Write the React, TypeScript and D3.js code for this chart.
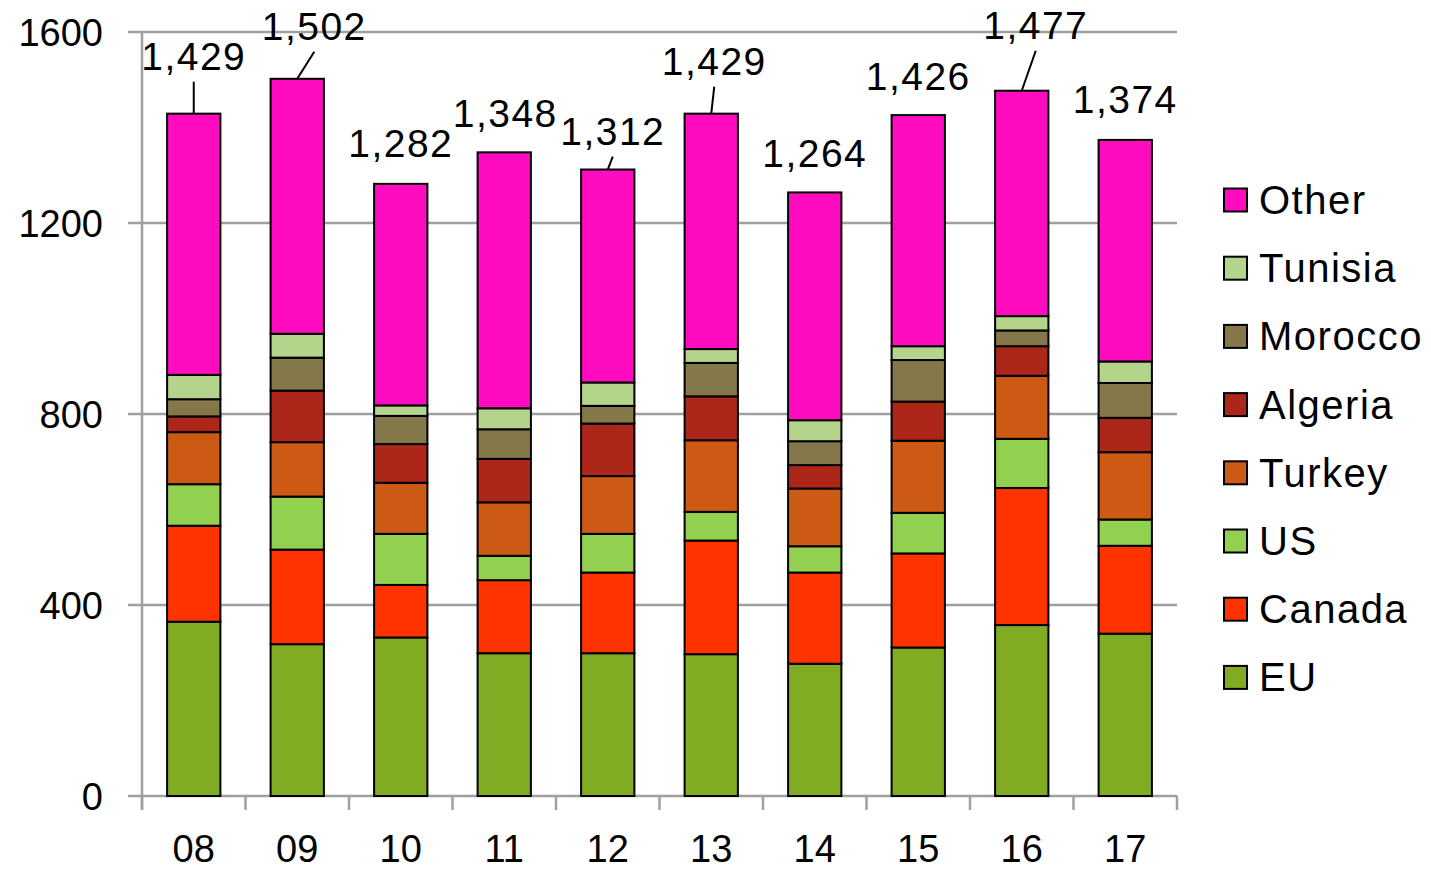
import * as d3 from 'd3';
import React, { useEffect, useRef } from 'react';

// years on x axis
const years = ['08', '09', '10', '11', '12', '13', '14', '15', '16', '17'];
const seriesNames = ['EU', 'Canada', 'US', 'Turkey', 'Algeria', 'Morocco', 'Tunisia', 'Other'];

const eu = [365, 318, 332, 299, 299, 297, 277, 311, 358, 340];
const canada = [201, 198, 110, 153, 169, 238, 191, 197, 287, 184];
const us = [87, 111, 107, 51, 81, 60, 55, 85, 103, 55];
const turkey = [109, 114, 107, 112, 121, 150, 121, 151, 132, 141];
const algeria = [33, 108, 81, 91, 110, 92, 49, 82, 62, 72];
const morocco = [36, 69, 59, 62, 37, 70, 50, 87, 33, 73];
const tunisia = [51, 50, 22, 44, 49, 29, 44, 29, 30, 45];
const other = [547, 534, 464, 536, 446, 493, 477, 484, 472, 464];
const totals = [1429, 1502, 1282, 1348, 1312, 1429, 1264, 1426, 1477, 1374];
const yTicks = [0, 400, 800, 1200, 1600];

const colors = ['#80ab22', '#ff3300', '#92d150', '#cc5a14', '#ac2619', '#84784a', '#b4d38b', '#ff0bc0'];

// where the total labels sit (manually placed in the original)
const labelDx = [0, 17, 0, 1, 5, 3, 0, 0, 14, 0];
const labelRise = [44, 39, 27, 25, 25, 39, 25, 25, 52, 27];
const hasLeader = [true, true, false, false, true, true, false, false, true, false];

const FONT = '"Liberation Sans", Arial, sans-serif';

const App = () => {
    const chartArea = useRef<SVGSVGElement>(null);
    const margin = { top: 32, right: 254, bottom: 73, left: 142 },
        W = 1431, H = 869,
        width = W - margin.left - margin.right,
        height = H - margin.top - margin.bottom;

    useEffect(() => {
        const svg = d3.select(chartArea.current);
        svg.selectAll('*').remove();

        const x = d3.scaleBand().domain(years).range([margin.left, margin.left + width]);
        const y = d3.scaleLinear().domain([0, 1600]).range([margin.top + height, margin.top]);
        const barW = x.bandwidth() * 0.515;

        const table = years.map((yr, i) => ({
            year: yr,
            EU: eu[i], Canada: canada[i], US: us[i], Turkey: turkey[i],
            Algeria: algeria[i], Morocco: morocco[i], Tunisia: tunisia[i], Other: other[i]
        }));
        const stacked = d3.stack<any>().keys(seriesNames)(table);

        // gridlines
        svg.append('g').selectAll('line').data(yTicks).join('line')
            .attr('x1', margin.left - 14).attr('x2', margin.left + width)
            .attr('y1', d => y(d)).attr('y2', d => y(d))
            .attr('stroke', '#a0a0a0').attr('stroke-width', 2.5);

        // y axis line
        svg.append('line')
            .attr('x1', margin.left).attr('x2', margin.left)
            .attr('y1', y(1600)).attr('y2', y(0) + 14)
            .attr('stroke', '#a0a0a0').attr('stroke-width', 2.5);

        // x ticks at band edges
        const edges = years.map(d => x(d) as number).concat([margin.left + width]);
        svg.append('g').selectAll('line').data(edges).join('line')
            .attr('x1', d => d).attr('x2', d => d)
            .attr('y1', y(0)).attr('y2', y(0) + 14)
            .attr('stroke', '#a0a0a0').attr('stroke-width', 2.5);

        svg.append('g').selectAll('text').data(yTicks).join('text')
            .attr('x', 103).attr('y', d => y(d) + 14)
            .attr('text-anchor', 'end')
            .attr('font-family', FONT).attr('font-size', 38)
            .text(d => d);

        svg.append('g').selectAll('text').data(years).join('text')
            .attr('x', d => (x(d) as number) + x.bandwidth() / 2)
            .attr('y', 862)
            .attr('text-anchor', 'middle')
            .attr('font-family', FONT).attr('font-size', 38)
            .text(d => d);

        // bars
        svg.append('g').selectAll('g').data(stacked).join('g')
            .attr('fill', (d, i) => colors[i])
            .selectAll('rect').data(d => d).join('rect')
            .attr('x', (d: any) => (x(d.data.year) as number) + (x.bandwidth() - barW) / 2)
            .attr('y', d => y(d[1]))
            .attr('width', barW)
            .attr('height', d => y(d[0]) - y(d[1]))
            .attr('stroke', '#000').attr('stroke-width', 2);

        // total labels
        const fmt = d3.format(',');
        years.forEach((yr, i) => {
            const cx = (x(yr) as number) + x.bandwidth() / 2;
            const top = y(totals[i]);
            const lx = cx + labelDx[i];
            const base = top - labelRise[i];
            if (hasLeader[i]) {
                svg.append('line')
                    .attr('x1', lx).attr('y1', base + 12)
                    .attr('x2', cx).attr('y2', top)
                    .attr('stroke', '#000').attr('stroke-width', 2);
            }
            svg.append('text')
                .attr('x', lx).attr('y', base)
                .attr('text-anchor', 'middle')
                .attr('font-family', FONT).attr('font-size', 39)
                .attr('letter-spacing', 1.5)
                .text(fmt(totals[i]));
        });

        // legend, top to bottom reversed
        const legendOrder = seriesNames.slice().reverse();
        const lg = svg.append('g').selectAll('g').data(legendOrder).join('g')
            .attr('transform', (d, i) => `translate(1224, ${200 + i * 68.2})`);
        lg.append('rect')
            .attr('x', 0).attr('y', -11.5).attr('width', 23).attr('height', 23)
            .attr('fill', d => colors[seriesNames.indexOf(d)])
            .attr('stroke', '#000').attr('stroke-width', 2);
        lg.append('text')
            .attr('x', 35).attr('y', 14)
            .attr('font-family', FONT).attr('font-size', 40)
            .attr('letter-spacing', 1.5)
            .text(d => d);
    }, []);

    return <svg
        ref={chartArea}
        width={W}
        height={H}
        style={{ position: 'absolute', left: 0, top: 0, background: '#fff' }}
    />;
}
export default App;
